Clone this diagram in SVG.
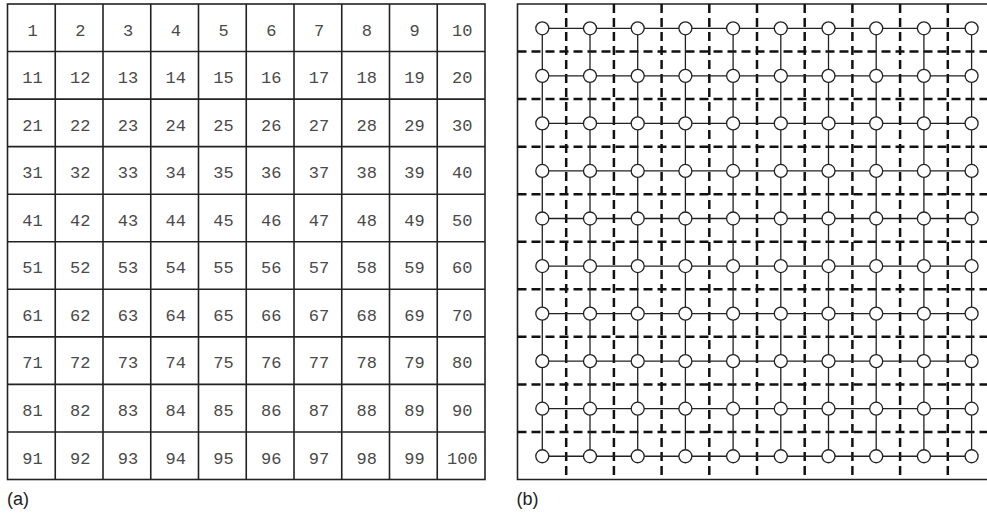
<svg xmlns="http://www.w3.org/2000/svg" width="987" height="513" viewBox="0 0 987 513">
<style>
.g{stroke:#222;stroke-width:1.6;fill:none}
.t{font-family:"Liberation Mono","Courier New",monospace;font-size:17px;fill:#4a4a4a;text-anchor:middle}
.s{stroke:#222;stroke-width:1.3;fill:none}
.d{stroke:#111;stroke-width:2.5;stroke-dasharray:9 5;fill:none}
.n{fill:#fff;stroke:#222;stroke-width:1.3}
.lbl{font-family:"Liberation Sans",Arial,sans-serif;font-size:18px;fill:#222}
</style>
<rect width="987" height="513" fill="#fff"/>
<g id="panel-a">
<g id="grid-a" class="g">
<rect x="7.5" y="4" width="477.5" height="475.5"/>
<path d="M55.25 4V479.5M103 4V479.5M150.75 4V479.5M198.5 4V479.5M246.25 4V479.5M294 4V479.5M341.75 4V479.5M389.5 4V479.5M437.25 4V479.5"/>
<path d="M7.5 51.55H485M7.5 99.1H485M7.5 146.65H485M7.5 194.2H485M7.5 241.75H485M7.5 289.3H485M7.5 336.85H485M7.5 384.4H485M7.5 431.95H485"/>
</g>
<g id="cells-a" class="t">
<text x="32.5" y="35.5">1</text><text x="80.3" y="35.5">2</text><text x="128" y="35.5">3</text><text x="175.8" y="35.5">4</text><text x="223.5" y="35.5">5</text><text x="271.3" y="35.5">6</text><text x="319" y="35.5">7</text><text x="366.8" y="35.5">8</text><text x="414.5" y="35.5">9</text><text x="462.3" y="35.5">10</text>
<text x="32.5" y="83.1">11</text><text x="80.3" y="83.1">12</text><text x="128" y="83.1">13</text><text x="175.8" y="83.1">14</text><text x="223.5" y="83.1">15</text><text x="271.3" y="83.1">16</text><text x="319" y="83.1">17</text><text x="366.8" y="83.1">18</text><text x="414.5" y="83.1">19</text><text x="462.3" y="83.1">20</text>
<text x="32.5" y="130.6">21</text><text x="80.3" y="130.6">22</text><text x="128" y="130.6">23</text><text x="175.8" y="130.6">24</text><text x="223.5" y="130.6">25</text><text x="271.3" y="130.6">26</text><text x="319" y="130.6">27</text><text x="366.8" y="130.6">28</text><text x="414.5" y="130.6">29</text><text x="462.3" y="130.6">30</text>
<text x="32.5" y="178.2">31</text><text x="80.3" y="178.2">32</text><text x="128" y="178.2">33</text><text x="175.8" y="178.2">34</text><text x="223.5" y="178.2">35</text><text x="271.3" y="178.2">36</text><text x="319" y="178.2">37</text><text x="366.8" y="178.2">38</text><text x="414.5" y="178.2">39</text><text x="462.3" y="178.2">40</text>
<text x="32.5" y="225.7">41</text><text x="80.3" y="225.7">42</text><text x="128" y="225.7">43</text><text x="175.8" y="225.7">44</text><text x="223.5" y="225.7">45</text><text x="271.3" y="225.7">46</text><text x="319" y="225.7">47</text><text x="366.8" y="225.7">48</text><text x="414.5" y="225.7">49</text><text x="462.3" y="225.7">50</text>
<text x="32.5" y="273.3">51</text><text x="80.3" y="273.3">52</text><text x="128" y="273.3">53</text><text x="175.8" y="273.3">54</text><text x="223.5" y="273.3">55</text><text x="271.3" y="273.3">56</text><text x="319" y="273.3">57</text><text x="366.8" y="273.3">58</text><text x="414.5" y="273.3">59</text><text x="462.3" y="273.3">60</text>
<text x="32.5" y="320.8">61</text><text x="80.3" y="320.8">62</text><text x="128" y="320.8">63</text><text x="175.8" y="320.8">64</text><text x="223.5" y="320.8">65</text><text x="271.3" y="320.8">66</text><text x="319" y="320.8">67</text><text x="366.8" y="320.8">68</text><text x="414.5" y="320.8">69</text><text x="462.3" y="320.8">70</text>
<text x="32.5" y="368.4">71</text><text x="80.3" y="368.4">72</text><text x="128" y="368.4">73</text><text x="175.8" y="368.4">74</text><text x="223.5" y="368.4">75</text><text x="271.3" y="368.4">76</text><text x="319" y="368.4">77</text><text x="366.8" y="368.4">78</text><text x="414.5" y="368.4">79</text><text x="462.3" y="368.4">80</text>
<text x="32.5" y="415.9">81</text><text x="80.3" y="415.9">82</text><text x="128" y="415.9">83</text><text x="175.8" y="415.9">84</text><text x="223.5" y="415.9">85</text><text x="271.3" y="415.9">86</text><text x="319" y="415.9">87</text><text x="366.8" y="415.9">88</text><text x="414.5" y="415.9">89</text><text x="462.3" y="415.9">90</text>
<text x="32.5" y="463.5">91</text><text x="80.3" y="463.5">92</text><text x="128" y="463.5">93</text><text x="175.8" y="463.5">94</text><text x="223.5" y="463.5">95</text><text x="271.3" y="463.5">96</text><text x="319" y="463.5">97</text><text x="366.8" y="463.5">98</text><text x="414.5" y="463.5">99</text><text x="462.3" y="463.5">100</text>
</g>
<text class="lbl" x="7" y="505">(a)</text>
</g>
<g id="panel-b">
<path class="g" d="M990 4H517.5V479.5H990"/>
<g id="partitions" class="d">
<path d="M566.2 4V479.5M613.9 4V479.5M661.6 4V479.5M709.3 4V479.5M757 4V479.5M804.7 4V479.5M852.4 4V479.5M900.1 4V479.5M947.8 4V479.5"/>
<path d="M517.5 51.55H990M517.5 99.1H990M517.5 146.65H990M517.5 194.2H990M517.5 241.75H990M517.5 289.3H990M517.5 336.85H990M517.5 384.4H990M517.5 431.95H990"/>
</g>
<g id="connectors" class="s">
<path d="M542.3 28.3H971.6M542.3 75.85H971.6M542.3 123.4H971.6M542.3 170.95H971.6M542.3 218.5H971.6M542.3 266.05H971.6M542.3 313.6H971.6M542.3 361.15H971.6M542.3 408.7H971.6M542.3 456.25H971.6"/>
<path d="M542.3 28.3V456.25M590 28.3V456.25M637.7 28.3V456.25M685.4 28.3V456.25M733.1 28.3V456.25M780.8 28.3V456.25M828.5 28.3V456.25M876.2 28.3V456.25M923.9 28.3V456.25M971.6 28.3V456.25"/>
</g>
<g id="nodes" class="n">
<g id="r1"><circle cx="542.3" cy="28.3" r="6.5"/><circle cx="590" cy="28.3" r="6.5"/><circle cx="637.7" cy="28.3" r="6.5"/><circle cx="685.4" cy="28.3" r="6.5"/><circle cx="733.1" cy="28.3" r="6.5"/><circle cx="780.8" cy="28.3" r="6.5"/><circle cx="828.5" cy="28.3" r="6.5"/><circle cx="876.2" cy="28.3" r="6.5"/><circle cx="923.9" cy="28.3" r="6.5"/><circle cx="971.6" cy="28.3" r="6.5"/></g>
<g id="r2"><circle cx="542.3" cy="75.85" r="6.5"/><circle cx="590" cy="75.85" r="6.5"/><circle cx="637.7" cy="75.85" r="6.5"/><circle cx="685.4" cy="75.85" r="6.5"/><circle cx="733.1" cy="75.85" r="6.5"/><circle cx="780.8" cy="75.85" r="6.5"/><circle cx="828.5" cy="75.85" r="6.5"/><circle cx="876.2" cy="75.85" r="6.5"/><circle cx="923.9" cy="75.85" r="6.5"/><circle cx="971.6" cy="75.85" r="6.5"/></g>
<g id="r3"><circle cx="542.3" cy="123.4" r="6.5"/><circle cx="590" cy="123.4" r="6.5"/><circle cx="637.7" cy="123.4" r="6.5"/><circle cx="685.4" cy="123.4" r="6.5"/><circle cx="733.1" cy="123.4" r="6.5"/><circle cx="780.8" cy="123.4" r="6.5"/><circle cx="828.5" cy="123.4" r="6.5"/><circle cx="876.2" cy="123.4" r="6.5"/><circle cx="923.9" cy="123.4" r="6.5"/><circle cx="971.6" cy="123.4" r="6.5"/></g>
<g id="r4"><circle cx="542.3" cy="170.95" r="6.5"/><circle cx="590" cy="170.95" r="6.5"/><circle cx="637.7" cy="170.95" r="6.5"/><circle cx="685.4" cy="170.95" r="6.5"/><circle cx="733.1" cy="170.95" r="6.5"/><circle cx="780.8" cy="170.95" r="6.5"/><circle cx="828.5" cy="170.95" r="6.5"/><circle cx="876.2" cy="170.95" r="6.5"/><circle cx="923.9" cy="170.95" r="6.5"/><circle cx="971.6" cy="170.95" r="6.5"/></g>
<g id="r5"><circle cx="542.3" cy="218.5" r="6.5"/><circle cx="590" cy="218.5" r="6.5"/><circle cx="637.7" cy="218.5" r="6.5"/><circle cx="685.4" cy="218.5" r="6.5"/><circle cx="733.1" cy="218.5" r="6.5"/><circle cx="780.8" cy="218.5" r="6.5"/><circle cx="828.5" cy="218.5" r="6.5"/><circle cx="876.2" cy="218.5" r="6.5"/><circle cx="923.9" cy="218.5" r="6.5"/><circle cx="971.6" cy="218.5" r="6.5"/></g>
<g id="r6"><circle cx="542.3" cy="266.05" r="6.5"/><circle cx="590" cy="266.05" r="6.5"/><circle cx="637.7" cy="266.05" r="6.5"/><circle cx="685.4" cy="266.05" r="6.5"/><circle cx="733.1" cy="266.05" r="6.5"/><circle cx="780.8" cy="266.05" r="6.5"/><circle cx="828.5" cy="266.05" r="6.5"/><circle cx="876.2" cy="266.05" r="6.5"/><circle cx="923.9" cy="266.05" r="6.5"/><circle cx="971.6" cy="266.05" r="6.5"/></g>
<g id="r7"><circle cx="542.3" cy="313.6" r="6.5"/><circle cx="590" cy="313.6" r="6.5"/><circle cx="637.7" cy="313.6" r="6.5"/><circle cx="685.4" cy="313.6" r="6.5"/><circle cx="733.1" cy="313.6" r="6.5"/><circle cx="780.8" cy="313.6" r="6.5"/><circle cx="828.5" cy="313.6" r="6.5"/><circle cx="876.2" cy="313.6" r="6.5"/><circle cx="923.9" cy="313.6" r="6.5"/><circle cx="971.6" cy="313.6" r="6.5"/></g>
<g id="r8"><circle cx="542.3" cy="361.15" r="6.5"/><circle cx="590" cy="361.15" r="6.5"/><circle cx="637.7" cy="361.15" r="6.5"/><circle cx="685.4" cy="361.15" r="6.5"/><circle cx="733.1" cy="361.15" r="6.5"/><circle cx="780.8" cy="361.15" r="6.5"/><circle cx="828.5" cy="361.15" r="6.5"/><circle cx="876.2" cy="361.15" r="6.5"/><circle cx="923.9" cy="361.15" r="6.5"/><circle cx="971.6" cy="361.15" r="6.5"/></g>
<g id="r9"><circle cx="542.3" cy="408.7" r="6.5"/><circle cx="590" cy="408.7" r="6.5"/><circle cx="637.7" cy="408.7" r="6.5"/><circle cx="685.4" cy="408.7" r="6.5"/><circle cx="733.1" cy="408.7" r="6.5"/><circle cx="780.8" cy="408.7" r="6.5"/><circle cx="828.5" cy="408.7" r="6.5"/><circle cx="876.2" cy="408.7" r="6.5"/><circle cx="923.9" cy="408.7" r="6.5"/><circle cx="971.6" cy="408.7" r="6.5"/></g>
<g id="r10"><circle cx="542.3" cy="456.25" r="6.5"/><circle cx="590" cy="456.25" r="6.5"/><circle cx="637.7" cy="456.25" r="6.5"/><circle cx="685.4" cy="456.25" r="6.5"/><circle cx="733.1" cy="456.25" r="6.5"/><circle cx="780.8" cy="456.25" r="6.5"/><circle cx="828.5" cy="456.25" r="6.5"/><circle cx="876.2" cy="456.25" r="6.5"/><circle cx="923.9" cy="456.25" r="6.5"/><circle cx="971.6" cy="456.25" r="6.5"/></g>
</g>
<text class="lbl" x="516.5" y="505">(b)</text>
</g>
</svg>
